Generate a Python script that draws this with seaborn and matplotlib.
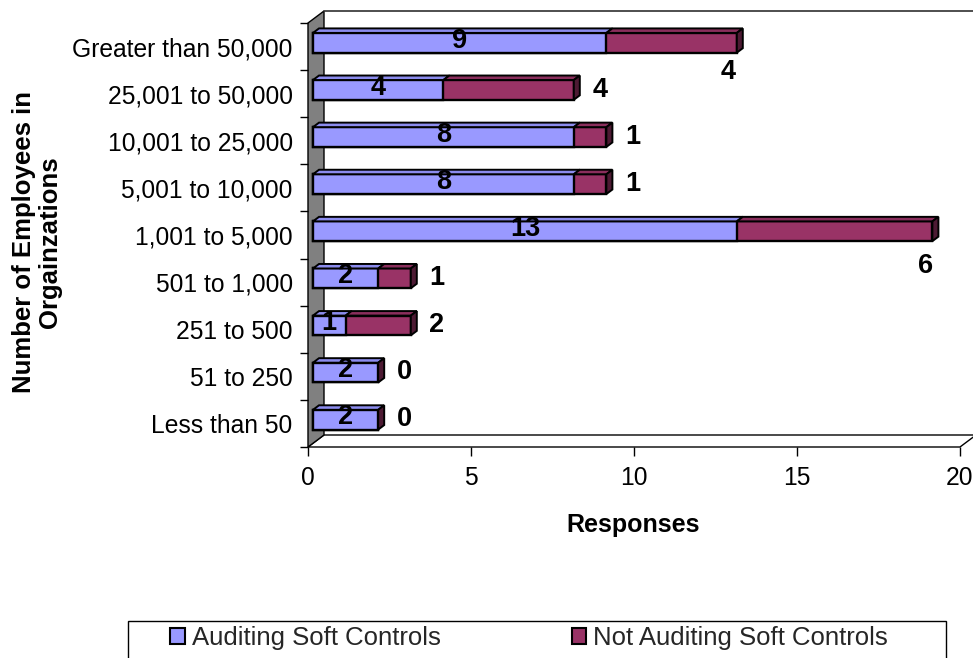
import numpy as np
import pandas as pd
import seaborn as sns
import matplotlib
matplotlib.use("Agg")
import matplotlib.pyplot as plt
from matplotlib.patches import Polygon, Rectangle
from matplotlib.transforms import IdentityTransform, ScaledTranslation

# ---- data -------------------------------------------------------------
categories = ["Greater than 50,000", "25,001 to 50,000", "10,001 to 25,000",
              "5,001 to 10,000", "1,001 to 5,000", "501 to 1,000",
              "251 to 500", "51 to 250", "Less than 50"]
auditing = [9, 4, 8, 8, 13, 2, 1, 2, 2]
not_auditing = [4, 4, 1, 1, 6, 1, 2, 0, 0]
series_names = ["Auditing Soft Controls", "Not Auditing Soft Controls"]
x_ticks = [0, 5, 10, 15, 20]
x_title = "Responses"
y_title = "Number of Employees in\nOrgainzations"

# ---- style ------------------------------------------------------------
BLUE = "#9999FF"
BLUE_TOP = "#8C8CEE"
MAROON = "#993366"
MAROON_TOP = "#8A2E5C"
MAROON_SIDE = "#4D1A33"
WALL = "#808080"

sns.set_theme(style="white")
plt.rcParams["font.family"] = ["Liberation Sans", "DejaVu Sans"]

W, H = 973, 658
DPI = 100
fig = plt.figure(figsize=(W / DPI, H / DPI), dpi=DPI)
fig.patch.set_facecolor("white")
ax = fig.add_axes([308 / W, 1 - 447 / H, 652 / W, 424 / H])
ax.patch.set_visible(False)

df = pd.DataFrame({"category": categories,
                   "auditing": auditing,
                   "not_auditing": not_auditing})
df["total"] = df["auditing"] + df["not_auditing"]

BAR_W = 0.42
# stacked bars: full totals in maroon, auditing share drawn over them in blue
sns.barplot(data=df, x="total", y="category", order=categories, orient="h",
            color=MAROON, saturation=1, width=BAR_W, errorbar=None,
            edgecolor="black", linewidth=1.7, ax=ax, zorder=2)
sns.barplot(data=df, x="auditing", y="category", order=categories, orient="h",
            color=BLUE, saturation=1, width=BAR_W, errorbar=None,
            edgecolor="black", linewidth=1.7, ax=ax, zorder=2.05)
n = len(categories)
maroon_bars = ax.patches[:n]
blue_bars = ax.patches[n:2 * n]

ax.set_xlim(x_ticks[0], x_ticks[-1])
ax.set_ylim(n - 0.5, -0.5)
for s in ax.spines.values():
    s.set_visible(False)

# ---- pseudo 3-D geometry (display pixels) -----------------------------
DEPTH = np.array([16.0, 12.0])        # full depth of the box
FRONT = DEPTH * (5 / 16)              # bar front face
BACK = DEPTH * (11 / 16)              # bar back face

# shift bar front faces into the box
shift = ScaledTranslation(FRONT[0] / DPI, FRONT[1] / DPI, fig.dpi_scale_trans)
for p in ax.patches:
    p.set_transform(ax.transData + shift)

def add_poly(pts, fc, z, lw=1.4, ec="black"):
    ax.add_patch(Polygon(np.asarray(pts), closed=True, facecolor=fc,
                         edgecolor=ec, linewidth=lw, transform=IdentityTransform(),
                         clip_on=False, zorder=z, joinstyle="miter"))

# side wall, floor and back wall top edge
a00 = ax.transAxes.transform((0, 0))
a01 = ax.transAxes.transform((0, 1))
a10 = ax.transAxes.transform((1, 0))
add_poly([a00, a01, a01 + DEPTH, a00 + DEPTH], WALL, 0.5, lw=1.0)
add_poly([a00, a10, a10 + DEPTH, a00 + DEPTH], "white", 0.4, lw=1.0)
top_l = a01 + DEPTH
ax.add_line(plt.Line2D([top_l[0], top_l[0] + 700], [top_l[1], top_l[1]],
                       color="#303030", lw=1.2, transform=IdentityTransform(),
                       clip_on=False, zorder=0.5))

# bar top faces and end caps
def face_corners(p):
    x0, y0 = p.get_x(), p.get_y()
    x1, y1 = x0 + p.get_width(), y0 + p.get_height()
    d0 = ax.transData.transform((x0, y0))
    d1 = ax.transData.transform((x1, y1))
    top = max(d0[1], d1[1])
    bot = min(d0[1], d1[1])
    return d0[0], d1[0], top, bot

for pb, pm in zip(blue_bars, maroon_bars):
    bx0, bx1, top, bot = face_corners(pb)
    mx0, mx1, _, _ = face_corners(pm)
    segs = [(bx0, bx1, BLUE_TOP), (bx1, mx1, MAROON_TOP)]
    for xa, xb, col in segs:
        if xb - xa > 0.5:
            add_poly([(xa + FRONT[0], top + FRONT[1]), (xb + FRONT[0], top + FRONT[1]),
                      (xb + BACK[0], top + BACK[1]), (xa + BACK[0], top + BACK[1])],
                     col, 2.1)
    add_poly([(mx1 + FRONT[0], top + FRONT[1]), (mx1 + FRONT[0], bot + FRONT[1]),
              (mx1 + BACK[0], bot + BACK[1]), (mx1 + BACK[0], top + BACK[1])],
             MAROON_SIDE, 2.1)

# ---- value labels -----------------------------------------------------
LABEL_KW = dict(fontsize=19.5, fontweight="bold", color="black",
                ha="center", va="center", textcoords="offset pixels",
                annotation_clip=False, zorder=3)
below_end = {0: (-4, -25), 4: (-2, -31)}
for i, (a, b) in enumerate(zip(auditing, not_auditing)):
    ax.annotate(f"{a}", xy=(a / 2, i), xytext=(5, 6), **LABEL_KW)
    off = below_end.get(i, (31, 4))
    ax.annotate(f"{b}", xy=(a + b, i), xytext=off, **LABEL_KW)

# ---- axes, ticks, titles ----------------------------------------------
ax.set_xticks(x_ticks)
ax.set_yticks(range(n))
ax.set_yticklabels(categories)
ax.set_yticks(np.arange(-0.5, n), minor=True)
ax.tick_params(axis="x", which="major", bottom=True, direction="out",
               length=6.5, width=1.0, color="black", labelsize=17.7, pad=7,
               labelcolor="black")
ax.tick_params(axis="y", which="major", left=True, length=0, labelsize=17.7,
               pad=11, labelcolor="black")
ax.tick_params(axis="y", which="minor", left=True, direction="out",
               length=6, width=1.0, color="black")
ax.grid(False)

ax.set_xlabel(x_title, fontsize=18, fontweight="bold", color="black")
ax.xaxis.set_label_coords(0.498, -0.184)
ax.xaxis.label.set_va("center")
ax.set_ylabel(y_title, fontsize=18.5, fontweight="bold", color="black",
              linespacing=1.15)
ax.yaxis.set_label_coords(-0.4156, 0.4835)
ax.yaxis.label.set_va("center")
ax.yaxis.label.set_ha("center")

# ---- legend -----------------------------------------------------------
handles = [Rectangle((0, 0), 1, 1, facecolor=BLUE, edgecolor="black", lw=1.5),
           Rectangle((0, 0), 1, 1, facecolor=MAROON, edgecolor="black", lw=1.5)]
fig.legend(handles, series_names, loc="center",
           bbox_to_anchor=(529 / W, 1 - 638 / H), ncol=2, frameon=False,
           fontsize=18.5, handlelength=0.58, handleheight=0.58,
           handletextpad=0.27, columnspacing=5.1, borderpad=0)
fig.add_artist(Rectangle((128 / W, 1 - 672 / H), (946 - 128) / W, 51 / H,
                         transform=fig.transFigure, facecolor="none",
                         edgecolor="black", lw=1.0, clip_on=False))

fig.savefig("out.png", dpi=DPI, facecolor="white")
